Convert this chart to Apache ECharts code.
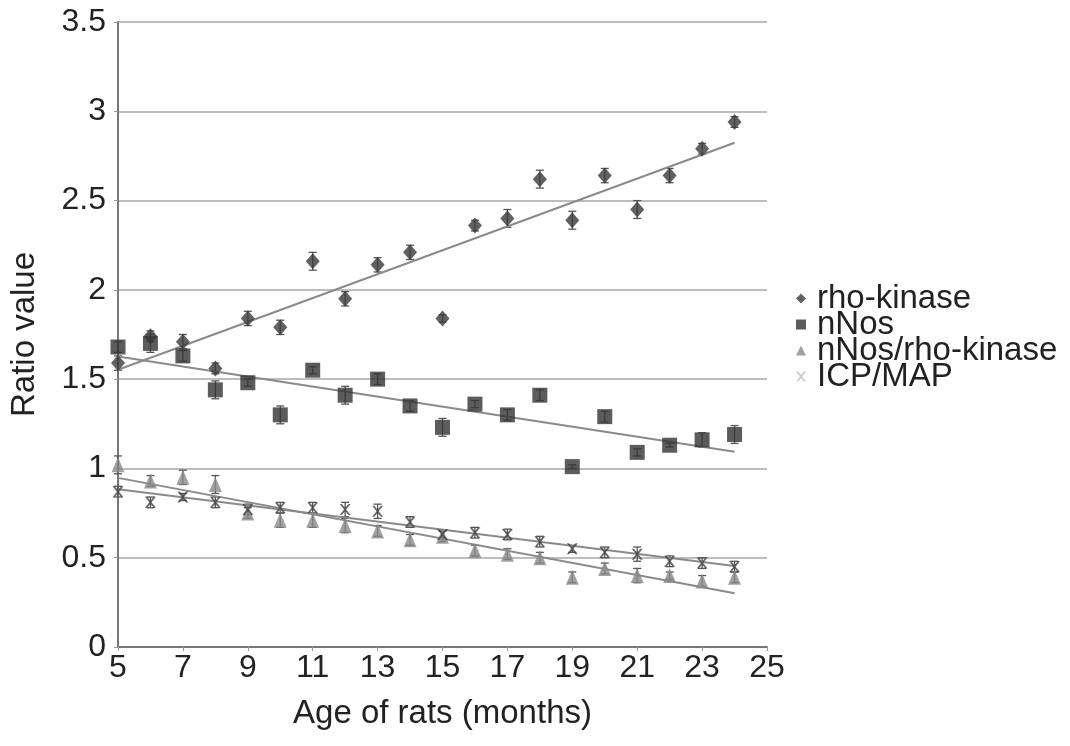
<!DOCTYPE html>
<html>
<head>
<meta charset="utf-8">
<script src="https://cdn.jsdelivr.net/npm/echarts@6/dist/echarts.min.js"></script>
<style>html,body{margin:0;padding:0;background:#fff}#c{width:1070px;height:746px}</style>
</head>
<body>
<div id="c"></div>
<script>
var ages = [5,6,7,8,9,10,11,12,13,14,15,16,17,18,19,20,21,22,23,24];
var rhoKinase = [1.59,1.74,1.71,1.56,1.84,1.79,2.16,1.95,2.14,2.21,1.84,2.36,2.40,2.62,2.39,2.64,2.45,2.64,2.79,2.94];
var rhoErr =    [0.04,0.03,0.04,0.03,0.04,0.04,0.05,0.04,0.04,0.04,0.02,0.03,0.05,0.05,0.05,0.04,0.05,0.04,0.03,0.03];
var nNos = [1.68,1.70,1.63,1.44,1.48,1.30,1.55,1.41,1.50,1.35,1.23,1.36,1.30,1.41,1.01,1.29,1.09,1.13,1.16,1.19];
var nNosErr = [0.03,0.05,0.03,0.05,0.02,0.05,0.02,0.05,0.03,0.03,0.05,0.02,0.03,0.03,0.01,0.03,0.02,0.01,0.04,0.05];
var ratio = [1.02,0.93,0.95,0.91,0.75,0.71,0.71,0.68,0.65,0.60,0.62,0.54,0.52,0.50,0.39,0.44,0.40,0.40,0.37,0.39];
var ratioErr = [0.05,0.03,0.04,0.05,0.03,0.04,0.04,0.04,0.03,0.03,0.03,0.03,0.03,0.03,0.03,0.03,0.04,0.02,0.03,0.03];
var icpMap = [0.87,0.81,0.84,0.81,0.77,0.78,0.78,0.77,0.76,0.70,0.63,0.64,0.63,0.59,0.55,0.53,0.52,0.48,0.47,0.45];
var icpErr = [0.03,0.03,0.02,0.03,0.03,0.03,0.03,0.04,0.04,0.03,0.02,0.03,0.03,0.03,0.02,0.03,0.04,0.03,0.03,0.03];
var seriesNames = ['rho-kinase','nNos','nNos/rho-kinase','ICP/MAP'];
var xTicks = [5,7,9,11,13,15,17,19,21,23,25];
var yTicks = [0,0.5,1,1.5,2,2.5,3,3.5];

function pairs(ys){ return ages.map(function(a,i){return [a, ys[i]];}); }
function trend(ys){
  var n=ages.length,sx=0,sy=0,sxx=0,sxy=0;
  for(var i=0;i<n;i++){sx+=ages[i];sy+=ys[i];sxx+=ages[i]*ages[i];sxy+=ages[i]*ys[i];}
  var b=(n*sxy-sx*sy)/(n*sxx-sx*sx), a=(sy-b*sx)/n;
  var x0=ages[0], x1=ages[n-1];
  return [[x0,a+b*x0],[x1,a+b*x1]];
}
function errSeries(ys, es){
  return {
    type:'custom', silent:true, z:3,
    data: ages.map(function(a,i){return [a, ys[i], es[i]];}),
    renderItem:function(params, api){
      var x=api.value(0), y=api.value(1), e=api.value(2);
      var top=api.coord([x,y+e]), bot=api.coord([x,y-e]);
      var w=4;
      var st={stroke:'#555', lineWidth:1.3};
      return {type:'group', children:[
        {type:'line', shape:{x1:top[0],y1:top[1],x2:bot[0],y2:bot[1]}, style:st},
        {type:'line', shape:{x1:top[0]-w,y1:top[1],x2:top[0]+w,y2:top[1]}, style:st},
        {type:'line', shape:{x1:bot[0]-w,y1:bot[1],x2:bot[0]+w,y2:bot[1]}, style:st}
      ]};
    }
  };
}
function trendSeries(ys){
  return {type:'line', data:trend(ys), symbol:'none', silent:true, z:4,
    lineStyle:{color:'#8a8a8a', width:2}};
}
var xPath='path://M0,0 L2,0 L5,3.5 L8,0 L10,0 L6,5 L10,10 L8,10 L5,6.5 L2,10 L0,10 L4,5 Z';
var font='Liberation Sans, Arial, sans-serif';
var tickFs=32, titleFs=33;

var chart = echarts.init(document.getElementById('c'));
chart.setOption({
  animation:false,
  backgroundColor:'#fff',
  grid:{left:118, right:303, top:22, bottom:99},
  legend:{
    data:[
      {name:'rho-kinase', icon:'diamond', itemStyle:{color:'#3a3a3a'}},
      {name:'nNos', icon:'rect', itemStyle:{color:'#333'}},
      {name:'nNos/rho-kinase', icon:'triangle', itemStyle:{color:'#8a8a8a'}},
      {name:'ICP/MAP', icon:xPath, itemStyle:{color:'#bbbbbb'}}
    ],
    orient:'vertical', left:796, top:282, itemGap:-7, itemWidth:10, itemHeight:10, padding:0,
    textStyle:{fontSize:titleFs, color:'#222', fontFamily:font, padding:[0,0,0,6]}
  },
  xAxis:{
    type:'value', min:5, max:25, interval:2,
    name:'Age of rats (months)', nameLocation:'middle', nameGap:50,
    nameTextStyle:{fontSize:titleFs, color:'#222', fontFamily:font},
    axisLine:{lineStyle:{color:'#777', width:2}},
    axisTick:{show:true, length:4, lineStyle:{color:'#999'}},
    axisLabel:{fontSize:tickFs, color:'#222', fontFamily:font, margin:5},
    splitLine:{show:false}
  },
  yAxis:{
    type:'value', min:0, max:3.5, interval:0.5,
    name:'Ratio value', nameLocation:'middle', nameGap:77,
    nameTextStyle:{fontSize:titleFs, color:'#222', fontFamily:font},
    axisLine:{show:true, lineStyle:{color:'#777', width:2}},
    axisTick:{show:true, length:4, lineStyle:{color:'#999'}},
    axisLabel:{fontSize:tickFs, color:'#222', fontFamily:font, margin:12},
    splitLine:{lineStyle:{color:'#bdbdbd', width:2}}
  },
  series:[
    errSeries(rhoKinase, rhoErr),
    errSeries(nNos, nNosErr),
    errSeries(ratio, ratioErr),
    errSeries(icpMap, icpErr),
    {name:'rho-kinase', type:'scatter', data:pairs(rhoKinase), symbol:'diamond', symbolSize:[14,16], z:5, itemStyle:{color:'#3a3a3a'}},
    {name:'nNos', type:'scatter', data:pairs(nNos), symbol:'rect', symbolSize:15, z:5, itemStyle:{color:'#333'}},
    {name:'nNos/rho-kinase', type:'scatter', data:pairs(ratio), symbol:'triangle', symbolSize:[13,15], z:5, itemStyle:{color:'#8a8a8a'}},
    {name:'ICP/MAP', type:'scatter', data:pairs(icpMap), symbol:xPath, symbolSize:11, z:6, itemStyle:{color:'#444'}},
    trendSeries(rhoKinase),
    trendSeries(nNos),
    trendSeries(ratio),
    trendSeries(icpMap)
  ]
});
</script>
</body>
</html>
